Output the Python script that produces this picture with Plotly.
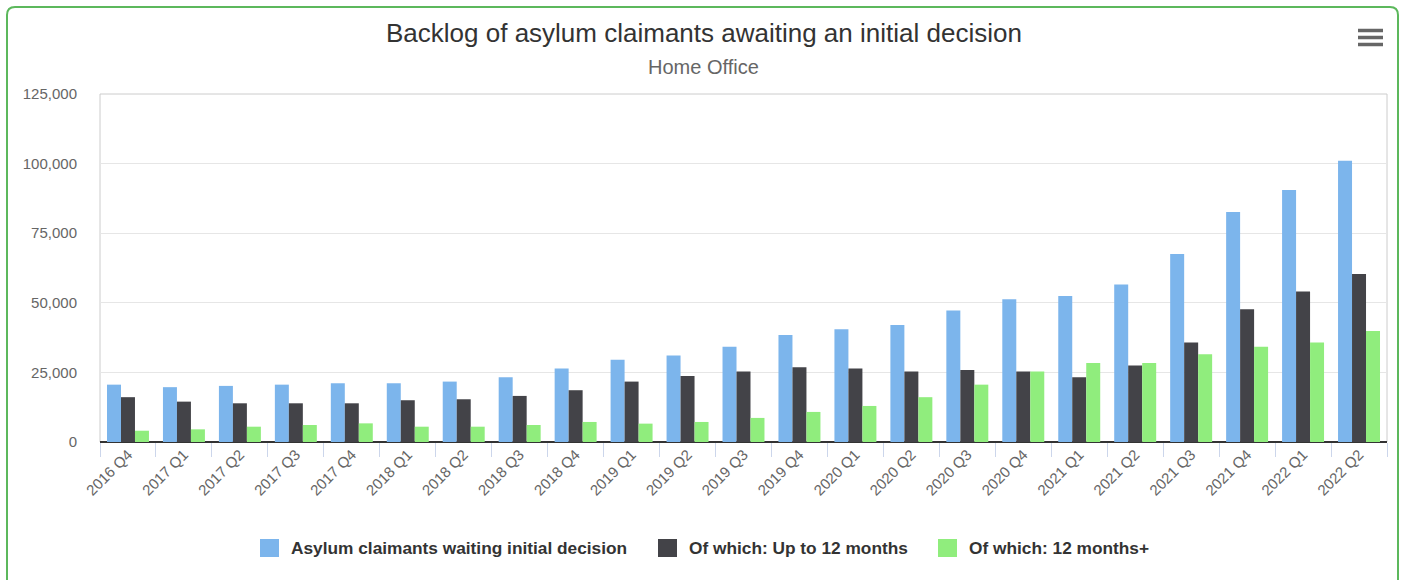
import plotly.graph_objects as go

# Quarterly asylum backlog (people awaiting an initial decision)
quarters = [
    "2016 Q4", "2017 Q1", "2017 Q2", "2017 Q3", "2017 Q4",
    "2018 Q1", "2018 Q2", "2018 Q3", "2018 Q4",
    "2019 Q1", "2019 Q2", "2019 Q3", "2019 Q4",
    "2020 Q1", "2020 Q2", "2020 Q3", "2020 Q4",
    "2021 Q1", "2021 Q2", "2021 Q3", "2021 Q4",
    "2022 Q1", "2022 Q2",
]
total_waiting = [
    20600, 19700, 20150, 20600, 21100,
    21100, 21700, 23300, 26400,
    29500, 31050, 34200, 38400,
    40500, 42000, 47200, 51300,
    52400, 56600, 67500, 82600,
    90500, 101000,
]
up_to_12_months = [
    16100, 14500, 13900, 13900, 13900,
    15000, 15350, 16550, 18600,
    21700, 23750, 25300, 26850,
    26400, 25300, 25900, 25300,
    23300, 27450, 35700, 47700,
    54100, 60300,
]
over_12_months = [
    4050, 4550, 5500, 6100, 6700,
    5500, 5500, 6100, 7200,
    6600, 7200, 8650, 10800,
    12950, 16100, 20600, 25300,
    28400, 28400, 31500, 34200,
    35700, 39900,
]

series_names = [
    "Asylum claimants waiting initial decision",
    "Of which: Up to 12 months",
    "Of which: 12 months+",
]
series_colors = ["#7cb5ec", "#434348", "#90ed7d"]

FONT = "Liberation Sans, Arial, Helvetica, sans-serif"
W, H = 1402, 580
ML, MR, MT, MB = 100, 15, 94, 138
PW, PH = W - ML - MR, H - MT - MB


def px_x(px):
    return (px - ML) / PW


def px_y(py):
    return (H - MB - py) / PH


fig = go.Figure()
for name, vals, color in zip(series_names,
                             [total_waiting, up_to_12_months, over_12_months],
                             series_colors):
    fig.add_trace(go.Bar(
        x=quarters, y=vals, name=name,
        marker=dict(color=color, line=dict(width=0)),
        showlegend=False,
        hovertemplate="%{x}<br>" + name + ": %{y:,}<extra></extra>",
    ))

shapes = []
# plot frame
shapes.append(dict(type="rect", xref="paper", yref="paper", x0=0, x1=1, y0=0, y1=1,
                   line=dict(color="#cccccc", width=1), layer="below"))

# rounded outer card border
r = 8
x0, x1, y0, y1 = 7, 1398, 7, 600
path = (
    f"M {px_x(x0 + r)},{px_y(y0)} L {px_x(x1 - r)},{px_y(y0)} "
    f"Q {px_x(x1)},{px_y(y0)} {px_x(x1)},{px_y(y0 + r)} "
    f"L {px_x(x1)},{px_y(y1 - r)} Q {px_x(x1)},{px_y(y1)} {px_x(x1 - r)},{px_y(y1)} "
    f"L {px_x(x0 + r)},{px_y(y1)} Q {px_x(x0)},{px_y(y1)} {px_x(x0)},{px_y(y1 - r)} "
    f"L {px_x(x0)},{px_y(y0 + r)} Q {px_x(x0)},{px_y(y0)} {px_x(x0 + r)},{px_y(y0)} Z"
)
shapes.append(dict(type="path", xref="paper", yref="paper", path=path,
                   line=dict(color="#5cb85c", width=2), layer="above"))

# context menu icon
for yy in (30.5, 37.5, 44.5):
    shapes.append(dict(type="line", xref="paper", yref="paper",
                       x0=px_x(1358), x1=px_x(1383), y0=px_y(yy), y1=px_y(yy),
                       line=dict(color="#666666", width=3.5)))

annotations = [
    dict(text="Backlog of asylum claimants awaiting an initial decision",
         xref="paper", yref="paper", x=px_x(703.5), y=px_y(33),
         xanchor="center", yanchor="middle", showarrow=False,
         font=dict(family=FONT, size=26, color="#333333")),
    dict(text="Home Office",
         xref="paper", yref="paper", x=px_x(703.5), y=px_y(67),
         xanchor="center", yanchor="middle", showarrow=False,
         font=dict(family=FONT, size=20, color="#666666")),
]

# legend row
legend_x = [260, 658, 938]
legend_y = 548
for lx, name, color in zip(legend_x, series_names, series_colors):
    shapes.append(dict(type="rect", xref="paper", yref="paper",
                       x0=px_x(lx), x1=px_x(lx + 19),
                       y0=px_y(legend_y - 9), y1=px_y(legend_y + 9),
                       fillcolor=color, line=dict(width=0)))
    annotations.append(dict(text=f"<b>{name}</b>", xref="paper", yref="paper",
                            x=px_x(lx + 29), y=px_y(legend_y),
                            xanchor="left", yanchor="middle", showarrow=False,
                            font=dict(family=FONT, size=17.3, color="#333333")))

fig.update_layout(
    width=W, height=H, autosize=False,
    margin=dict(l=ML, r=MR, t=MT, b=MB, pad=0),
    paper_bgcolor="white", plot_bgcolor="white",
    barmode="group", bargap=0.25, bargroupgap=0,
    font=dict(family=FONT, color="#666666"),
    shapes=shapes, annotations=annotations,
    xaxis=dict(
        type="category", showgrid=False, tickson="boundaries",
        ticks="outside", ticklen=14, tickwidth=1, tickcolor="#ccd6eb",
        tickangle=-45, tickfont=dict(family=FONT, size=15, color="#666666"),
        showline=False, zeroline=False,
    ),
    yaxis=dict(
        range=[0, 125000], dtick=25000, tickformat=",d",
        showgrid=True, gridcolor="#e6e6e6", gridwidth=1,
        zeroline=True, zerolinecolor="#333333", zerolinewidth=2,
        showline=False, ticks="", ticklabelstandoff=22,
        tickfont=dict(family=FONT, size=15, color="#666666"),
    ),
)

fig.write_html("out.html")
